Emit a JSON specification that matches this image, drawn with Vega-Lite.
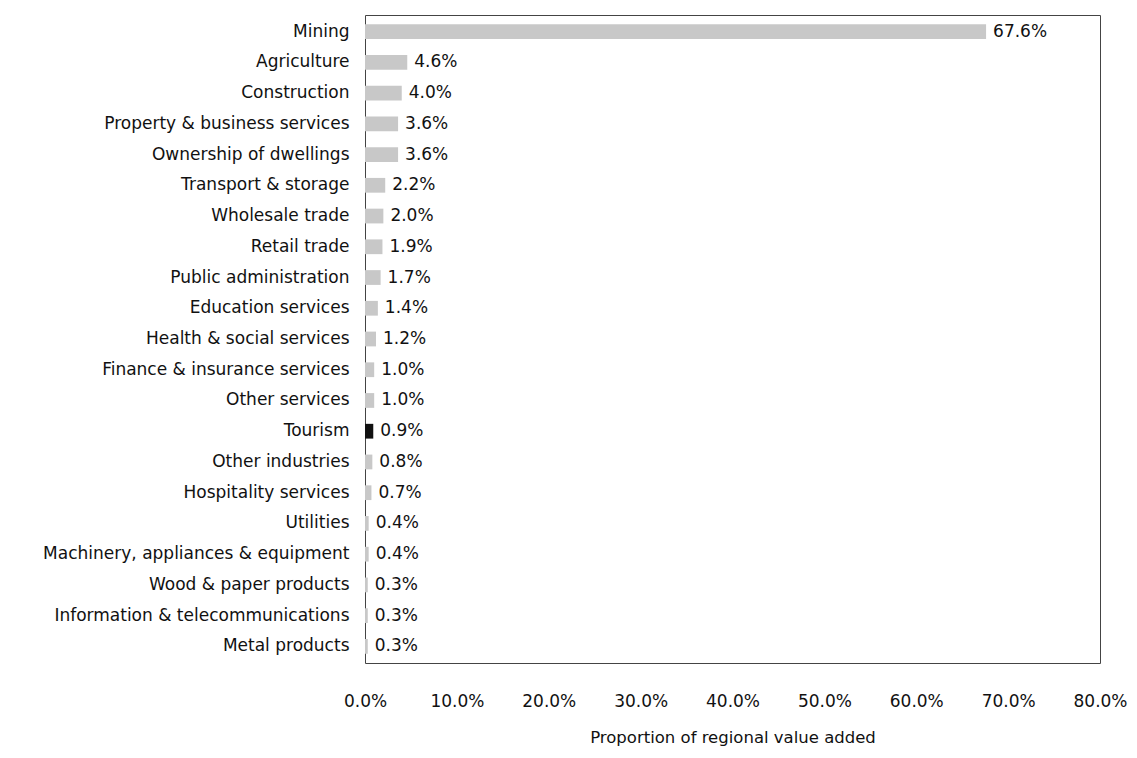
{
  "$schema": "https://vega.github.io/schema/vega-lite/v6.json",
  "autosize": {"type": "none"},
  "width": 735,
  "height": 648,
  "padding": {"left": 365, "top": 15, "right": 37, "bottom": 95},
  "background": "white",
  "config": {
    "font": "DejaVu Sans",
    "view": {"stroke": "#444", "strokeWidth": 1}
  },
  "data": {
    "values": [
      {"industry": "Mining", "share": 0.676},
      {"industry": "Agriculture", "share": 0.046},
      {"industry": "Construction", "share": 0.040},
      {"industry": "Property & business services", "share": 0.036},
      {"industry": "Ownership of dwellings", "share": 0.036},
      {"industry": "Transport & storage", "share": 0.022},
      {"industry": "Wholesale trade", "share": 0.020},
      {"industry": "Retail trade", "share": 0.019},
      {"industry": "Public administration", "share": 0.017},
      {"industry": "Education services", "share": 0.014},
      {"industry": "Health & social services", "share": 0.012},
      {"industry": "Finance & insurance services", "share": 0.010},
      {"industry": "Other services", "share": 0.010},
      {"industry": "Tourism", "share": 0.009},
      {"industry": "Other industries", "share": 0.008},
      {"industry": "Hospitality services", "share": 0.007},
      {"industry": "Utilities", "share": 0.004},
      {"industry": "Machinery, appliances & equipment", "share": 0.004},
      {"industry": "Wood & paper products", "share": 0.003},
      {"industry": "Information & telecommunications", "share": 0.003},
      {"industry": "Metal products", "share": 0.003}
    ]
  },
  "encoding": {
    "y": {
      "field": "industry",
      "type": "nominal",
      "sort": null,
      "scale": {"paddingInner": 0.52, "paddingOuter": 0.3},
      "axis": {
        "title": null,
        "domain": false,
        "ticks": false,
        "labelFontSize": 17,
        "labelColor": "#111",
        "labelPadding": 16,
        "labelLimit": 400
      }
    },
    "x": {
      "field": "share",
      "type": "quantitative",
      "scale": {"domain": [0, 0.8]},
      "axis": {
        "title": "Proportion of regional value added",
        "format": ".1%",
        "values": [0, 0.1, 0.2, 0.3, 0.4, 0.5, 0.6, 0.7, 0.8],
        "labelFlush": false,
        "grid": false,
        "domain": false,
        "ticks": false,
        "labelFontSize": 17,
        "labelColor": "#111",
        "labelPadding": 30,
        "titleFontSize": 16.5,
        "titleFontWeight": "normal",
        "titleColor": "#111",
        "titlePadding": 20
      }
    }
  },
  "layer": [
    {
      "mark": {"type": "bar"},
      "encoding": {
        "color": {
          "condition": {"test": "datum.industry === 'Tourism'", "value": "#111111"},
          "value": "#c8c8c8"
        }
      }
    },
    {
      "mark": {"type": "text", "align": "left", "baseline": "middle", "dx": 7, "fontSize": 17, "color": "#111"},
      "encoding": {
        "text": {"field": "share", "type": "quantitative", "format": ".1%"}
      }
    }
  ]
}
